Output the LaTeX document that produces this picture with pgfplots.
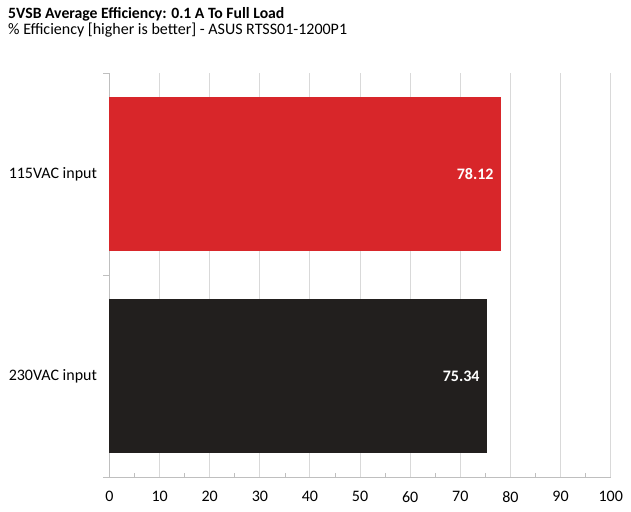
\documentclass[border=0pt]{standalone}
\usepackage{pgfplots}
\pgfplotsset{compat=1.18}
\usepackage{fontspec}
\setmainfont{Carlito}
\definecolor{barred}{HTML}{D8262A}
\definecolor{barblack}{HTML}{221F1E}
\definecolor{gridgray}{HTML}{D9D9D9}
\definecolor{axisgray}{HTML}{BFBFBF}
\begin{document}
\begin{tikzpicture}[x=1pt,y=1pt]
\path[use as bounding box] (0,0) rectangle (631,511);
\node[anchor=base west,inner sep=0pt,font=\fontsize{15.7}{18}\selectfont\bfseries] at (8,492.3) {5VSB Average Efficiency: 0.1 A To Full Load};
\node[anchor=base west,inner sep=0pt,font=\fontsize{16}{18}\selectfont] at (8,476.3) {\% Efficiency [higher is better] - ASUS RTSS01-1200P1};
\begin{axis}[
  at={(109.5pt,34pt)}, anchor=south west,
  width=501.2pt, height=404pt, scale only axis,
  xbar, bar width=0.76, bar shift=0pt,
  xmin=0, xmax=100, ymin=-0.5, ymax=1.5,
  axis lines*=left,
  axis line style={draw=axisgray, line width=0.8pt},
  xtick={0,10,...,100},
  minor x tick num=1,
  xmajorgrids,
  major grid style={draw=gridgray, line width=1pt},
  major tick length=0pt,
  minor tick length=4pt,
  tick style={draw=axisgray, line width=0.8pt},
  ytick={0,1},
  yticklabels={230VAC input,115VAC input},
  ytick style={draw=none},
  extra y ticks={-0.5,0.5,1.5},
  extra y tick labels={},
  extra y tick style={ytick style={draw=axisgray, line width=0.8pt}, major tick length=6pt, tick align=outside},
  ticklabel style={font=\fontsize{16}{19}\selectfont, text=black},
  /pgf/number format/assume math mode=true,
  xticklabel style={yshift=-11pt},
  yticklabel style={xshift=-9pt},
  nodes near coords={\pgfmathprintnumber[fixed,precision=2,fixed zerofill]{\pgfplotspointmeta}},
  nodes near coords style={font=\fontsize{16}{19}\selectfont\bfseries, text=white, anchor=east, xshift=-4pt},
  clip=false,
]
\addplot[fill=barred, draw=none] coordinates {(78.12,1)};
\addplot[fill=barblack, draw=none] coordinates {(75.34,0)};
\end{axis}
\end{tikzpicture}
\end{document}
